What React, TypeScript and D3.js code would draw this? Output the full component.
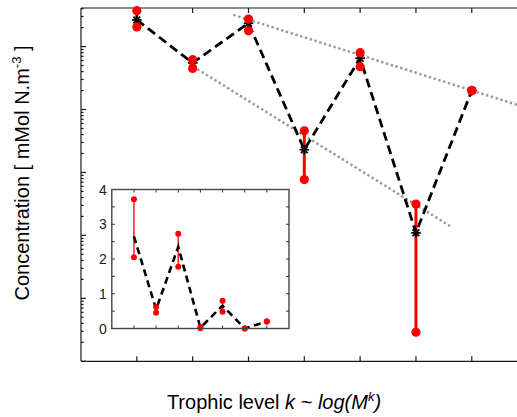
import React from "react";
import * as d3 from "d3";

// Trophic levels and concentrations (mMol N per m^3)
const levels = [1, 2, 3, 4, 5, 6, 7];
const meanConc = [2.65, 0.55, 2.35, 0.023, 0.654, 0.0011, 0.2];
const lowConc = [2.05, 0.45, 1.78, 0.0077, 0.48, 0.000029, 0.2];
const highConc = [3.72, 0.62, 2.73, 0.046, 0.8, 0.00315, 0.2];

// Inset axis tick values (linear scale)
const insetYLabels = [0, 1, 2, 3, 4];
const insetYTicks = [0, 0.5, 1, 1.5, 2, 2.5, 3, 3.5, 4];

// Dotted guide lines (log-linear trends)
const trendUpper = [
  { k: 2.73, v: 3.19 },
  { k: 8, v: 0.105 },
];
const trendLower = [
  { k: 2.01, v: 0.481 },
  { k: 6.61, v: 0.00141 },
];

const W = 517;
const H = 417;
const FONT = "'Liberation Sans', Arial, Helvetica, sans-serif";
const AX = "#1a1a1a";

function Star({ cx, cy, r }: { cx: number; cy: number; r: number }) {
  const d = r * Math.SQRT1_2;
  return (
    <g stroke="#000" strokeWidth={1.8}>
      <line x1={cx - r} y1={cy} x2={cx + r} y2={cy} />
      <line x1={cx} y1={cy - r} x2={cx} y2={cy + r} />
      <line x1={cx - d} y1={cy - d} x2={cx + d} y2={cy + d} />
      <line x1={cx - d} y1={cy + d} x2={cx + d} y2={cy - d} />
    </g>
  );
}

export default function App() {
  // main axes
  const x = d3.scaleLinear().domain([0, 8]).range([81, 527.6]);
  const y = d3.scaleLog().domain([1e-5, 4.1]).range([361.3, 8]);
  const [yBot, yTop] = y.range();
  const xLeft = x(0);

  const majors = [1e-5, 1e-4, 1e-3, 1e-2, 1e-1, 1];
  const minors: number[] = [];
  majors.forEach((d) => {
    for (let m = 2; m <= 9; m++) {
      const v = m * d;
      if (v <= 4.1) minors.push(v);
    }
  });

  const meanLine = d3
    .line<number>()
    .x((_, i) => x(levels[i]))
    .y((v) => y(v));
  const trendLine = d3
    .line<{ k: number; v: number }>()
    .x((p) => x(p.k))
    .y((p) => y(p.v));

  // inset axes
  const xi = d3.scaleLinear().domain([0, 8]).range([111.8, 289]);
  const yi = d3.scaleLinear().domain([0, 4]).range([328.5, 189.5]);
  const insetLine = d3
    .line<number>()
    .x((_, i) => xi(levels[i]))
    .y((v) => yi(v));

  return (
    <div style={{ position: "absolute", left: 0, top: 0 }}>
      <svg width={W} height={H} style={{ display: "block", background: "#fff" }}>
        <rect x={0} y={0} width={W} height={H} fill="#fff" />

        {/* main frame */}
        <g stroke={AX} strokeWidth={1.2} fill="none">
          <line x1={xLeft} y1={yTop} x2={W + 20} y2={yTop} />
          <line x1={xLeft} y1={yBot} x2={W + 20} y2={yBot} />
          <line x1={xLeft} y1={yTop} x2={xLeft} y2={yBot} />
          {levels.map((k) => (
            <g key={k}>
              <line x1={x(k)} y1={yTop} x2={x(k)} y2={yTop + 5} />
              <line x1={x(k)} y1={yBot} x2={x(k)} y2={yBot - 5} />
            </g>
          ))}
          {majors.map((v) => (
            <line key={"M" + v} x1={xLeft} y1={y(v)} x2={xLeft + 5} y2={y(v)} />
          ))}
          {minors.map((v) => (
            <line key={"m" + v} x1={xLeft} y1={y(v)} x2={xLeft + 2.6} y2={y(v)} />
          ))}
        </g>

        {/* dotted trends */}
        <g stroke="#9a9a9a" strokeWidth={2.5} strokeDasharray="2.4,2.6" fill="none">
          <path d={trendLine(trendUpper) || ""} />
          <path d={trendLine(trendLower) || ""} />
        </g>

        {/* ranges */}
        <g stroke="#ff0000" strokeWidth={3}>
          {levels.map((k, i) => (
            <line key={k} x1={x(k)} y1={y(lowConc[i])} x2={x(k)} y2={y(highConc[i])} />
          ))}
        </g>

        {/* mean */}
        <path
          d={meanLine(meanConc) || ""}
          fill="none"
          stroke="#000"
          strokeWidth={2.8}
          strokeDasharray="9,5"
        />
        {levels.map((k, i) => (
          <Star key={k} cx={x(k)} cy={y(meanConc[i])} r={4.8} />
        ))}
        <g fill="#ff0000">
          {levels.map((k, i) => (
            <g key={k}>
              <circle cx={x(k)} cy={y(lowConc[i])} r={4.6} />
              <circle cx={x(k)} cy={y(highConc[i])} r={4.6} />
            </g>
          ))}
        </g>

        {/* inset */}
        <rect x={xi(0)} y={yi(4)} width={xi(8) - xi(0)} height={yi(0) - yi(4)} fill="#fff" />
        <g stroke="#333" strokeWidth={1}>
          {levels.map((k) => (
            <g key={k}>
              <line x1={xi(k)} y1={yi(4)} x2={xi(k)} y2={yi(4) + 3} />
              <line x1={xi(k)} y1={yi(0)} x2={xi(k)} y2={yi(0) - 3} />
            </g>
          ))}
          {insetYTicks.map((t) => (
            <g key={t}>
              <line x1={xi(0)} y1={yi(t)} x2={xi(0) + 3} y2={yi(t)} />
              <line x1={xi(8)} y1={yi(t)} x2={xi(8) - 3} y2={yi(t)} />
            </g>
          ))}
        </g>
        <g stroke="#ff2020" strokeWidth={1.5}>
          {levels.map((k, i) => (
            <line key={k} x1={xi(k)} y1={yi(lowConc[i])} x2={xi(k)} y2={yi(highConc[i])} />
          ))}
        </g>
        <path
          d={insetLine(meanConc) || ""}
          fill="none"
          stroke="#000"
          strokeWidth={2.6}
          strokeDasharray="7,4.5"
        />
        <g fill="#ff0000">
          {levels.map((k, i) => (
            <g key={k}>
              <circle cx={xi(k)} cy={yi(lowConc[i])} r={3} />
              <circle cx={xi(k)} cy={yi(highConc[i])} r={3} />
            </g>
          ))}
        </g>
        <rect
          x={xi(0)}
          y={yi(4)}
          width={xi(8) - xi(0)}
          height={yi(0) - yi(4)}
          fill="none"
          stroke="#444"
          strokeWidth={1.4}
        />
        <g fontFamily={FONT} fontSize={14} fill="#222" textAnchor="end">
          {insetYLabels.map((t) => (
            <text key={t} x={xi(0) - 5} y={yi(t) + 5}>
              {t}
            </text>
          ))}
        </g>

        {/* axis titles */}
        <text x={274} y={409} textAnchor="middle" fontFamily={FONT} fontSize={20} fill="#000">
          Trophic level <tspan fontStyle="italic">k</tspan> ~{" "}
          <tspan fontStyle="italic">log(M</tspan>
          <tspan fontStyle="italic" fontSize={13} dy={-8}>
            k
          </tspan>
          <tspan fontStyle="italic" dy={8}>
            )
          </tspan>
        </text>
        <text
          transform="translate(29,173) rotate(-90)"
          textAnchor="middle"
          fontFamily={FONT}
          fontSize={20}
          fill="#000"
        >
          Concentration [ mMol N.m
          <tspan fontSize={13} dy={-8}>
            -3
          </tspan>
          <tspan dy={8}> ]</tspan>
        </text>
      </svg>
    </div>
  );
}
